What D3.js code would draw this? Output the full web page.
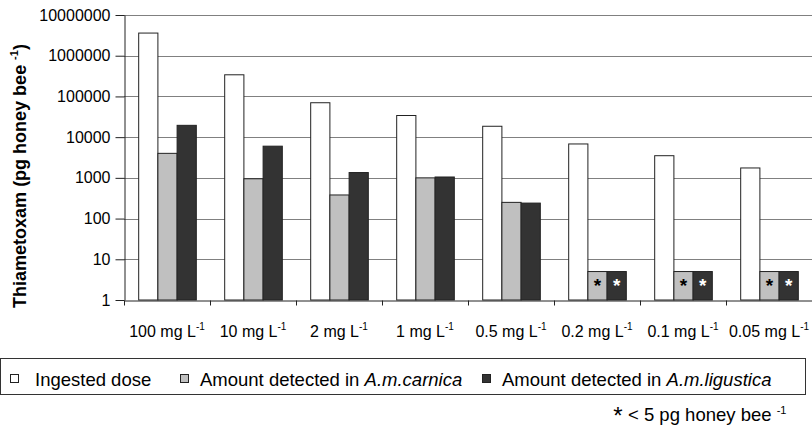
<!DOCTYPE html>
<html>
<head>
<meta charset="utf-8">
<script src="https://cdn.jsdelivr.net/npm/d3@7"></script>
<style>
  body { margin: 0; background: #fff; }
  svg { display: block; font-family: "Liberation Sans", Arial, sans-serif; }
</style>
</head>
<body>
<svg id="chart" width="812" height="429"></svg>
<script>
// ---- data ----
const categories = ["100 mg L", "10 mg L", "2 mg L", "1 mg L", "0.5 mg L", "0.2 mg L", "0.1 mg L", "0.05 mg L"];
const ingestedDose = [3600000, 340000, 70000, 34000, 18500, 6800, 3500, 1750];
const amountCarnica = [4000, 950, 380, 1000, 250, 5, 5, 5];
const amountLigustica = [19500, 6000, 1350, 1050, 240, 5, 5, 5];
const belowLimit = [false, false, false, false, false, true, true, true];
const yTicks = [1, 10, 100, 1000, 10000, 100000, 1000000, 10000000];
const seriesNames = ["Ingested dose", "Amount detected in ", "Amount detected in "];
const seriesItalic = ["", "A.m.carnica", "A.m.ligustica"];
const seriesColors = ["#ffffff", "#c0c0c0", "#333333"];

const svg = d3.select("#chart");
const pLeft = 124, pRight = 812, pTop = 15, pBottom = 300;

const y = d3.scaleLog().domain([1, 1e7]).range([pBottom, pTop]);
const x0 = d3.scaleBand().domain(categories).range([pLeft, pRight]).paddingInner(0.33).paddingOuter(0.165);
const x1 = d3.scaleBand().domain([0, 1, 2]).range([0, x0.bandwidth()]);
const xb = d3.scaleLinear().domain([0, categories.length]).range([pLeft, pRight]);

// gridlines
svg.append("g").selectAll("line").data(yTicks.slice(1)).join("line")
  .attr("x1", pLeft).attr("x2", pRight)
  .attr("y1", d => Math.round(y(d)) + 0.5).attr("y2", d => Math.round(y(d)) + 0.5)
  .attr("stroke", "#808080").attr("stroke-width", 1);

// bars
const data = categories.map((c, i) => ({c, vals: [ingestedDose[i], amountCarnica[i], amountLigustica[i]], low: belowLimit[i]}));
const groups = svg.append("g").selectAll("g").data(data).join("g")
  .attr("transform", d => `translate(${x0(d.c)},0)`);
groups.selectAll("rect").data(d => d.vals.map((v, k) => ({v, k}))).join("rect")
  .attr("x", d => x1(d.k) + 0.5)
  .attr("width", x1.bandwidth())
  .attr("y", d => y(d.v))
  .attr("height", d => y(1) - y(d.v))
  .attr("fill", d => seriesColors[d.k])
  .attr("stroke", "#222").attr("stroke-width", 1);

// asterisks for below-limit values
groups.filter(d => d.low).each(function(d) {
  const g = d3.select(this);
  [1, 2].forEach(k => {
    g.append("text")
      .attr("x", x1(k) + x1.bandwidth() / 2 + 0.5)
      .attr("y", y(d.vals[k]) + 20)
      .attr("text-anchor", "middle")
      .attr("font-size", 19).attr("font-weight", "bold")
      .attr("fill", k === 1 ? "#000" : "#fff")
      .text("*");
  });
});

// y axis
const yAxis = svg.append("g").attr("transform", `translate(${pLeft + 0.5},0)`)
  .call(d3.axisLeft(y).tickValues(yTicks).tickFormat(d3.format("d")).tickSizeInner(9).tickSizeOuter(0).tickPadding(5));
yAxis.select(".domain").attr("stroke", "#222");
yAxis.selectAll(".tick line").attr("stroke", "#222");
yAxis.selectAll(".tick text").attr("font-size", 16).attr("fill", "#000").attr("font-family", "Liberation Sans, Arial, sans-serif");

// x axis (category boundary ticks)
const xAxis = svg.append("g").attr("transform", `translate(0,${pBottom + 0.5})`)
  .call(d3.axisBottom(xb).tickValues(d3.range(categories.length + 1)).tickFormat("").tickSizeInner(5).tickSizeOuter(0));
xAxis.select(".domain").attr("stroke", "#222");
xAxis.selectAll(".tick line").attr("stroke", "#222");

// x labels
const xl = svg.append("g").selectAll("text").data(categories).join("text")
  .attr("x", d => x0(d) + x0.bandwidth() / 2)
  .attr("y", 337)
  .attr("text-anchor", "middle")
  .attr("font-size", 16).attr("fill", "#000");
xl.append("tspan").text(d => d);
xl.append("tspan").attr("font-size", 10).attr("dy", -7).text("-1");

// y title
const yt = svg.append("text")
  .attr("transform", "translate(26,176) rotate(-90)")
  .attr("text-anchor", "middle")
  .attr("font-size", 18).attr("font-weight", "bold").attr("fill", "#000");
yt.append("tspan").text("Thiametoxam (pg honey bee ");
yt.append("tspan").attr("font-size", 11).attr("dy", -8).text("-1");
yt.append("tspan").attr("dy", 8).text(")");

// legend
svg.append("rect").attr("x", 0.5).attr("y", 358.5).attr("width", 805).attr("height", 36)
  .attr("fill", "none").attr("stroke", "#333").attr("stroke-width", 1);
const legendSquareX = [10, 180, 482];
seriesNames.forEach((name, k) => {
  const sx = legendSquareX[k];
  svg.append("rect").attr("x", sx + 0.5).attr("y", 374.5).attr("width", 8).attr("height", 8)
    .attr("fill", seriesColors[k]).attr("stroke", "#222");
  const t = svg.append("text").attr("x", sx + (k === 0 ? 25 : 20)).attr("y", 386)
    .attr("font-size", 18.5).attr("fill", "#000");
  t.append("tspan").text(name);
  if (seriesItalic[k]) t.append("tspan").attr("font-style", "italic").text(seriesItalic[k]);
});

// footnote
svg.append("text").attr("x", 618).attr("y", 424).attr("text-anchor", "middle")
  .attr("font-size", 24).attr("fill", "#000").text("*");
const fn = svg.append("text").attr("x", 628).attr("y", 421).attr("font-size", 18.5).attr("fill", "#000");
fn.append("tspan").text("< 5 pg honey bee ");
fn.append("tspan").attr("font-size", 11).attr("dy", -7).text("-1");
</script>
</body>
</html>
